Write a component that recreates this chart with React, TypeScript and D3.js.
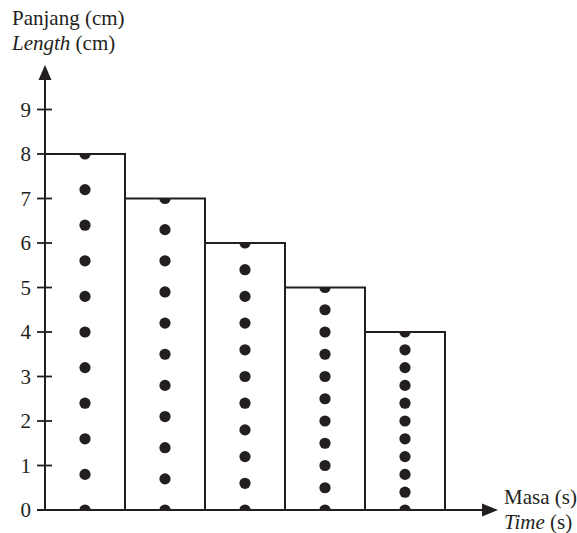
import { useEffect, useRef } from 'react'
import * as d3 from 'd3'

// strip lengths (cm) for each ticker-tape strip
const stripLengths = [8, 7, 6, 5, 4]

// dot positions (cm) along each strip
const stripDots = [
  [0, 0.8, 1.6, 2.4, 3.2, 4.0, 4.8, 5.6, 6.4, 7.2, 8.0],
  [0, 0.7, 1.4, 2.1, 2.8, 3.5, 4.2, 4.9, 5.6, 6.3, 7.0],
  [0, 0.6, 1.2, 1.8, 2.4, 3.0, 3.6, 4.2, 4.8, 5.4, 6.0],
  [0, 0.5, 1.0, 1.5, 2.0, 2.5, 3.0, 3.5, 4.0, 4.5, 5.0],
  [0, 0.4, 0.8, 1.2, 1.6, 2.0, 2.4, 2.8, 3.2, 3.6, 4.0],
]

const yTicks = [0, 1, 2, 3, 4, 5, 6, 7, 8, 9]

const W = 577
const H = 533
const ink = '#231f20'
const font = 'Liberation Serif'

export default function App() {
  const svgRef = useRef<SVGSVGElement | null>(null)

  useEffect(() => {
    const svg = d3.select(svgRef.current)
    svg.selectAll('*').remove()

    const x0 = 45
    const yBase = 510

    const y = d3.scaleLinear().domain([0, 8]).range([yBase, 154])
    const x = d3
      .scaleBand<number>()
      .domain(stripLengths.map((_, i) => i))
      .range([x0, x0 + 80 * stripLengths.length])
      .padding(0)

    const defs = svg.append('defs')

    // ================= STRIPS =================
    stripLengths.forEach((len, i) => {
      const bx = x(i) as number
      const bw = x.bandwidth()
      defs
        .append('clipPath')
        .attr('id', `strip-${i}`)
        .append('rect')
        .attr('x', bx)
        .attr('y', y(len))
        .attr('width', bw)
        .attr('height', yBase - y(len))

      svg
        .append('g')
        .attr('clip-path', `url(#strip-${i})`)
        .selectAll('circle')
        .data(stripDots[i])
        .join('circle')
        .attr('cx', bx + bw / 2)
        .attr('cy', (d) => y(d))
        .attr('r', 5.6)
        .attr('fill', ink)

      svg
        .append('rect')
        .attr('x', bx)
        .attr('y', y(len))
        .attr('width', bw)
        .attr('height', yBase - y(len))
        .attr('fill', 'none')
        .attr('stroke', ink)
        .attr('stroke-width', 2)
    })

    // ================= AXES =================
    const axisG = svg.append('g')
    axisG
      .append('line')
      .attr('x1', x0)
      .attr('x2', x0)
      .attr('y1', yBase)
      .attr('y2', 78)
      .attr('stroke', ink)
      .attr('stroke-width', 2)
    axisG
      .append('path')
      .attr('d', `M${x0},65 L${x0 - 6.5},80 L${x0 + 6.5},80 Z`)
      .attr('fill', ink)

    axisG
      .append('line')
      .attr('x1', 37)
      .attr('x2', 484)
      .attr('y1', yBase)
      .attr('y2', yBase)
      .attr('stroke', ink)
      .attr('stroke-width', 2)
    axisG
      .append('path')
      .attr('d', `M498,${yBase} L482,${yBase - 6.5} L482,${yBase + 6.5} Z`)
      .attr('fill', ink)

    const ticks = axisG
      .selectAll('g.tick')
      .data(yTicks)
      .join('g')
      .attr('class', 'tick')
      .attr('transform', (d) => `translate(0,${y(d)})`)
    ticks
      .filter((d) => d > 0)
      .append('line')
      .attr('x1', 37)
      .attr('x2', 52)
      .attr('stroke', ink)
      .attr('stroke-width', 1.8)
    ticks
      .append('text')
      .attr('x', 31)
      .attr('dy', '0.34em')
      .attr('text-anchor', 'end')
      .style('font-family', font)
      .style('font-size', '21px')
      .attr('fill', ink)
      .text((d) => d)

    // ================= LABELS =================
    const label = (tx: number, ty: number, italic: string, rest: string) => {
      const t = svg
        .append('text')
        .attr('x', tx)
        .attr('y', ty)
        .style('font-family', font)
        .style('font-size', '21px')
        .attr('fill', ink)
      if (italic) t.append('tspan').style('font-style', 'italic').text(italic)
      t.append('tspan').text(rest)
    }
    label(12, 25, '', 'Panjang (cm)')
    label(12, 50, 'Length', ' (cm)')
    label(504, 504, '', 'Masa (s)')
    label(504, 529, 'Time', ' (s)')
  }, [])

  return <svg ref={svgRef} width={W} height={H} style={{ display: 'block', position: 'absolute', left: 0, top: 0 }} />
}
